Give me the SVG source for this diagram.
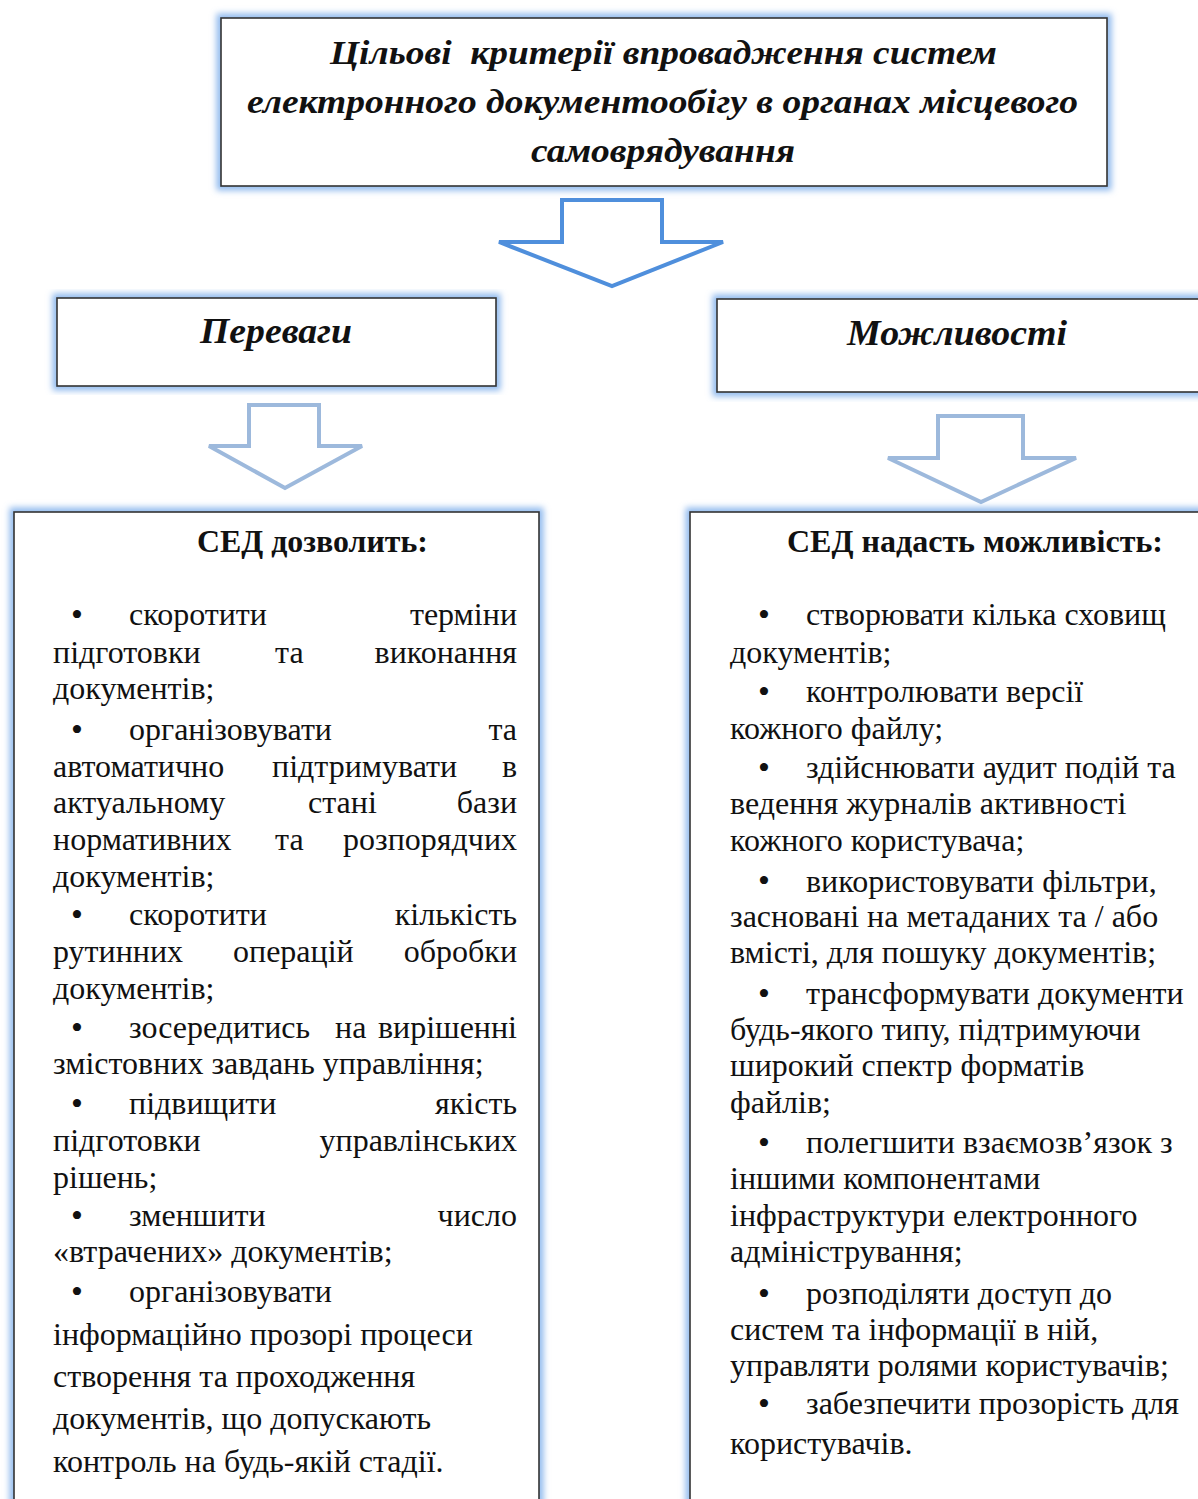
<svg xmlns="http://www.w3.org/2000/svg" width="1198" height="1499" viewBox="0 0 1198 1499">
<defs>
<filter id="glow" x="-10%" y="-10%" width="120%" height="120%">
<feGaussianBlur stdDeviation="3"/>
</filter>
<style>
.glowr{fill:none;stroke:#8fb9ee;stroke-width:9;filter:url(#glow)}
.box{fill:#fff;stroke:#333;stroke-width:1.6}
.ttl{font-family:"Liberation Serif",serif;font-weight:bold;font-style:italic;font-size:34px;fill:#111}
.sub{font-family:"Liberation Serif",serif;font-weight:bold;font-style:italic;font-size:36px;fill:#111}
.hd{font-family:"Liberation Serif",serif;font-weight:bold;font-size:31px;fill:#111}
.t{font-family:"Liberation Serif",serif;font-size:32px;fill:#111}
.b{font-family:"Liberation Serif",serif;font-size:34px;fill:#111}
.e{text-anchor:end}
.arr1{fill:#fff;stroke:#4f8fdc;stroke-width:4;stroke-linejoin:miter}
.arr2{fill:#fff;stroke:#9db9dc;stroke-width:4;stroke-linejoin:miter}
</style>
</defs>
<rect width="1198" height="1499" fill="#fff"/>

<g id="title">
<rect class="glowr" x="221" y="18" width="886" height="168"/>
<rect class="box" x="221" y="18" width="886" height="168"/>
<text class="ttl" x="330" y="64" textLength="667" lengthAdjust="spacingAndGlyphs" xml:space="preserve">Цільові  критерії впровадження систем</text>
<text class="ttl" x="247" y="113" textLength="831" lengthAdjust="spacingAndGlyphs">електронного документообігу в органах місцевого</text>
<text class="ttl" x="531" y="162" textLength="264" lengthAdjust="spacingAndGlyphs">самоврядування</text>
</g>

<g id="connectors">
<path class="arr1" d="M562,200 L662,200 L662,242 L723,242 L612,286 L499,242 L562,242 Z"/>
<path class="arr2" d="M249,405 L319,405 L319,446 L362,446 L285,488 L209,446 L249,446 Z"/>
<path class="arr2" d="M938,416 L1023,416 L1023,458 L1076,458 L981,502 L888,458 L938,458 Z"/>
</g>

<g id="perevagy">
<rect class="glowr" x="57" y="298" width="439" height="88"/>
<rect class="box" x="57" y="298" width="439" height="88"/>
<text class="sub" x="200" y="343" textLength="152" lengthAdjust="spacingAndGlyphs">Переваги</text>
</g>

<g id="mozhlyvosti">
<rect class="glowr" x="717" y="299" width="490" height="93"/>
<rect class="box" x="717" y="299" width="490" height="93"/>
<text class="sub" x="847" y="345" textLength="220" lengthAdjust="spacingAndGlyphs">Можливості</text>
</g>

<g id="left-list">
<rect class="glowr" x="14" y="512" width="525" height="1010"/>
<rect class="box" x="14" y="512" width="525" height="1010"/>
<text class="hd" x="197" y="552" textLength="231" lengthAdjust="spacingAndGlyphs">СЕД дозволить:</text>
<text class="b" x="71" y="626">•</text><text class="t" x="129" y="625">скоротити</text><text class="t e" x="517" y="625">терміни</text>
<text class="t" x="53" y="663">підготовки</text><text class="t" x="275" y="663">та</text><text class="t e" x="517" y="663">виконання</text>
<text class="t" x="53" y="699">документів;</text>
<text class="b" x="71" y="741">•</text><text class="t" x="129" y="740">організовувати</text><text class="t e" x="517" y="740">та</text>
<text class="t" x="53" y="777">автоматично</text><text class="t" x="272" y="777">підтримувати</text><text class="t e" x="517" y="777">в</text>
<text class="t" x="53" y="813">актуальному</text><text class="t" x="308" y="813">стані</text><text class="t e" x="517" y="813">бази</text>
<text class="t" x="53" y="850">нормативних</text><text class="t" x="275" y="850">та</text><text class="t e" x="517" y="850">розпорядчих</text>
<text class="t" x="53" y="887">документів;</text>
<text class="b" x="71" y="926">•</text><text class="t" x="129" y="925">скоротити</text><text class="t e" x="517" y="925">кількість</text>
<text class="t" x="53" y="962">рутинних</text><text class="t" x="233" y="962">операцій</text><text class="t e" x="517" y="962">обробки</text>
<text class="t" x="53" y="999">документів;</text>
<text class="b" x="71" y="1039">•</text><text class="t" x="129" y="1038">зосередитись</text><text class="t" x="335" y="1038">на</text><text class="t e" x="517" y="1038">вирішенні</text>
<text class="t" x="53" y="1074">змістовних завдань управління;</text>
<text class="b" x="71" y="1115">•</text><text class="t" x="129" y="1114">підвищити</text><text class="t e" x="517" y="1114">якість</text>
<text class="t" x="53" y="1151">підготовки</text><text class="t e" x="517" y="1151">управлінських</text>
<text class="t" x="53" y="1188">рішень;</text>
<text class="b" x="71" y="1227">•</text><text class="t" x="129" y="1226">зменшити</text><text class="t e" x="517" y="1226">число</text>
<text class="t" x="53" y="1262">«втрачених» документів;</text>
<text class="b" x="71" y="1303">•</text><text class="t" x="129" y="1302">організовувати</text>
<text class="t" x="53" y="1345">інформаційно прозорі процеси</text>
<text class="t" x="53" y="1387">створення та проходження</text>
<text class="t" x="53" y="1429">документів, що допускають</text>
<text class="t" x="53" y="1472">контроль на будь-якій стадії.</text>
</g>

<g id="right-list">
<rect class="glowr" x="690" y="512" width="530" height="1010"/>
<rect class="box" x="690" y="512" width="530" height="1010"/>
<text class="hd" x="787" y="552" textLength="376" lengthAdjust="spacingAndGlyphs">СЕД надасть можливість:</text>
<text class="b" x="758" y="626">•</text><text class="t" x="806" y="625">створювати кілька сховищ</text>
<text class="t" x="730" y="663">документів;</text>
<text class="b" x="758" y="703">•</text><text class="t" x="806" y="702">контролювати версії</text>
<text class="t" x="730" y="739">кожного файлу;</text>
<text class="b" x="758" y="779">•</text><text class="t" x="806" y="778">здійснювати аудит подій та</text>
<text class="t" x="730" y="814">ведення журналів активності</text>
<text class="t" x="730" y="851">кожного користувача;</text>
<text class="b" x="758" y="892">•</text><text class="t" x="806" y="892">використовувати фільтри,</text>
<text class="t" x="730" y="927">засновані на метаданих та / або</text>
<text class="t" x="730" y="963">вмісті, для пошуку документів;</text>
<text class="b" x="758" y="1005">•</text><text class="t" x="806" y="1004">трансформувати документи</text>
<text class="t" x="730" y="1040">будь-якого типу, підтримуючи</text>
<text class="t" x="730" y="1076">широкий спектр форматів</text>
<text class="t" x="730" y="1113">файлів;</text>
<text class="b" x="758" y="1154">•</text><text class="t" x="806" y="1153">полегшити взаємозв’язок з</text>
<text class="t" x="730" y="1189">іншими компонентами</text>
<text class="t" x="730" y="1226">інфраструктури електронного</text>
<text class="t" x="730" y="1262">адміністрування;</text>
<text class="b" x="758" y="1305">•</text><text class="t" x="806" y="1304">розподіляти доступ до</text>
<text class="t" x="730" y="1340">систем та інформації в ній,</text>
<text class="t" x="730" y="1376">управляти ролями користувачів;</text>
<text class="b" x="758" y="1415">•</text><text class="t" x="806" y="1414">забезпечити прозорість для</text>
<text class="t" x="730" y="1454">користувачів.</text>
</g>
</svg>
